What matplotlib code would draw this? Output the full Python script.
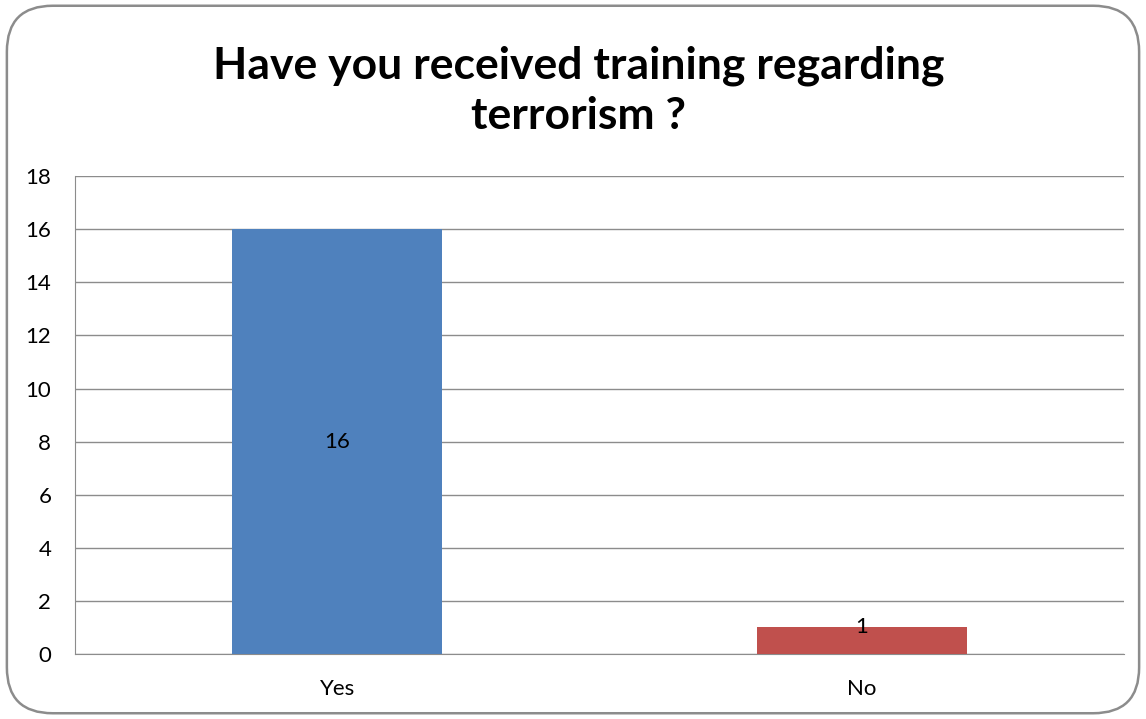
import matplotlib.pyplot as plt
from matplotlib.patches import FancyBboxPatch

# data
categories = ["Yes", "No"]
counts = [16, 1]
bar_colors = ["#4F81BD", "#C0504D"]
title = "Have you received training regarding\nterrorism ?"

plt.rcParams['font.family'] = ['Lato', 'DejaVu Sans']

fig = plt.figure(figsize=(11.46, 7.19), dpi=100)

# rounded chart border
border = FancyBboxPatch((0.006, 0.008), 0.988, 0.984,
                        boxstyle="round,pad=0,rounding_size=0.04",
                        transform=fig.transFigure, facecolor="none",
                        edgecolor="#8C8C8C", linewidth=1.8, mutation_aspect=1146/719)
fig.patches.append(border)

ax = fig.add_axes([0.0654, 0.0904, 0.9156, 0.6646])
ax.set_facecolor("none")

x = range(len(categories))
bars = ax.bar(x, counts, width=0.4, color=bar_colors, zorder=3)

ax.set_xlim(-0.5, 1.5)
ax.set_ylim(0, 18)
ax.set_yticks(range(0, 19, 2))
ax.set_xticks(list(x))
ax.set_xticklabels(categories)
ax.yaxis.grid(True, color="#8C8C8C", linewidth=1.0, zorder=0)
ax.tick_params(axis="both", length=0, labelsize=16, colors="black")
ax.tick_params(axis="y", pad=17)
ax.tick_params(axis="x", pad=18)

for s in ["top", "right"]:
    ax.spines[s].set_visible(False)
ax.spines["left"].set_color("#8C8C8C")
ax.spines["bottom"].set_color("#8C8C8C")

# data labels
ax.text(0, 8, str(counts[0]), ha="center", va="center", fontsize=16, zorder=4)
ax.text(1, 1, str(counts[1]), ha="center", va="center", fontsize=16, zorder=4)

fig.text(0.505, 0.874, title, ha="center", va="center", fontsize=32,
         fontweight="bold", linespacing=1.3)

fig.savefig("out.png", dpi=100)
